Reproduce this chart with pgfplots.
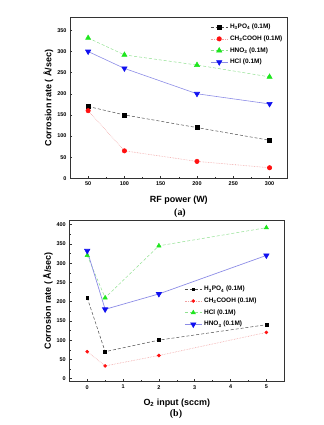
\documentclass[border=0pt]{standalone}
\usepackage{pgfplots}
\pgfplotsset{compat=1.18}
\usepackage{fontspec}
\setmainfont{Liberation Sans}
\newfontfamily\seriffont{Liberation Serif}
\definecolor{cgreen}{HTML}{1EE61E}
\definecolor{cred}{HTML}{FF1010}
\definecolor{cblue}{HTML}{1010F0}
\definecolor{lgreen}{HTML}{90E090}
\definecolor{lred}{HTML}{F0A0A0}
\definecolor{lblue}{HTML}{8C8CE6}
\pgfplotsset{
  myaxis/.style={
    scale only axis,
    axis line style={black!80, line width=0.6pt},
    tick style={black!80, line width=0.5pt},
    major tick length=2.5pt, minor tick length=1.5pt,
    xtick pos=left, ytick pos=left,
    tick align=inside,
    /pgf/number format/assume math mode=true,
    ticklabel style={font=\fontsize{5.5}{6}\selectfont\bfseries},
    legend style={draw=none, fill=none, font=\fontsize{6.5}{7.5}\selectfont\bfseries,
      row sep=1.5pt, inner sep=1pt},
    legend cell align=left,
    every axis y label/.style={at={(axis description cs:-0.1,0.5)}, rotate=90, anchor=center,
      font=\fontsize{9}{10}\selectfont\bfseries},
    every axis x label/.style={at={(axis description cs:0.5,0)}, anchor=north, yshift=-14bp,
      font=\fontsize{9}{10}\selectfont\bfseries},
  }
}
\begin{document}
\begin{tikzpicture}
\path[use as bounding box] (0,0) rectangle (324bp,-425bp);
% (a)
\begin{axis}[myaxis,
  at={(70bp,-178.3bp)}, anchor=south west,
  width=217.7bp, height=160.6bp,
  xmin=25, xmax=325, ymin=0, ymax=380,
  xtick={50,100,150,200,250,300}, minor xtick={75,125,175,225,275},
  ytick={0,50,...,350}, minor ytick={25,75,...,375},
  xlabel={RF power (W)}, ylabel={Corrosion rate ( Å/sec)},
  legend style={at={(rel axis cs:0.99,0.98)}, anchor=north east},
]
\addplot[black!70, densely dashed, line width=0.5pt, mark=square*, mark size=2pt, mark options={solid, black, fill=black}]
  coordinates {(50,170) (100,150) (200,120) (300,90)};
\addlegendentry{H\textsubscript{3}PO\textsubscript{4} (0.1M)}
\addplot[lred, densely dotted, line width=0.6pt, mark=*, mark size=2.2pt, mark options={solid, cred, fill=cred}]
  coordinates {(50,160) (100,65) (200,40) (300,25)};
\addlegendentry{CH\textsubscript{3}COOH (0.1M)}
\addplot[lgreen, densely dashed, line width=0.5pt, mark=triangle*, mark size=3pt, mark options={solid, cgreen, fill=cgreen}]
  coordinates {(50,332) (100,292) (200,268) (300,240)};
\addlegendentry{HNO\textsubscript{3} (0.1M)}
\addplot[lblue, solid, line width=0.6pt, mark=triangle*, mark size=3pt, mark options={solid, cblue, fill=cblue, rotate=180}]
  coordinates {(50,300) (100,260) (200,200) (300,176)};
\addlegendentry{HCl (0.1M)}
\end{axis}
\node[font=\seriffont\fontsize{10}{11}\selectfont\bfseries] at (180bp,-213bp) {(a)};
% (b)
\begin{axis}[myaxis,
  at={(69.3bp,-381.7bp)}, anchor=south west,
  width=215bp, height=161.7bp,
  xmin=-0.5, xmax=5.5, ymin=-8, ymax=412,
  xtick={0,1,2,3,4,5}, minor xtick={0.5,1.5,...,4.5},
  ytick={0,50,...,400}, minor ytick={25,75,...,375},
  xlabel={O\textsubscript{2} input (sccm)}, ylabel={Corrosion rate ( Å/sec)},
  legend style={at={(rel axis cs:0.53,0.61)}, anchor=north west},
]
\addplot[black!70, densely dashed, line width=0.5pt, mark=square*, mark size=1.4pt, mark options={solid, black, fill=black}]
  coordinates {(0,210) (0.5,70) (2,100) (5,140)};
\addlegendentry{H\textsubscript{3}PO\textsubscript{4} (0.1M)}
\addplot[lred, densely dotted, line width=0.6pt, mark=*, mark size=1.5pt, mark options={solid, cred, fill=cred}]
  coordinates {(0,70) (0.5,33) (2,60) (5,120)};
\addlegendentry{CH\textsubscript{3}COOH (0.1M)}
\addplot[lgreen, densely dashed, line width=0.5pt, mark=triangle*, mark size=2.5pt, mark options={solid, cgreen, fill=cgreen}]
  coordinates {(0,320) (0.5,210) (2,345) (5,392)};
\addlegendentry{HCl (0.1M)}
\addplot[lblue, solid, line width=0.7pt, mark=triangle*, mark size=3pt, mark options={solid, cblue, fill=cblue, rotate=180}]
  coordinates {(0,332) (0.5,180) (2,220) (5,320)};
\addlegendentry{HNO\textsubscript{3} (0.1M)}
\end{axis}
\node[font=\seriffont\fontsize{10}{11}\selectfont\bfseries] at (176bp,-414bp) {(b)};
\end{tikzpicture}
\end{document}
